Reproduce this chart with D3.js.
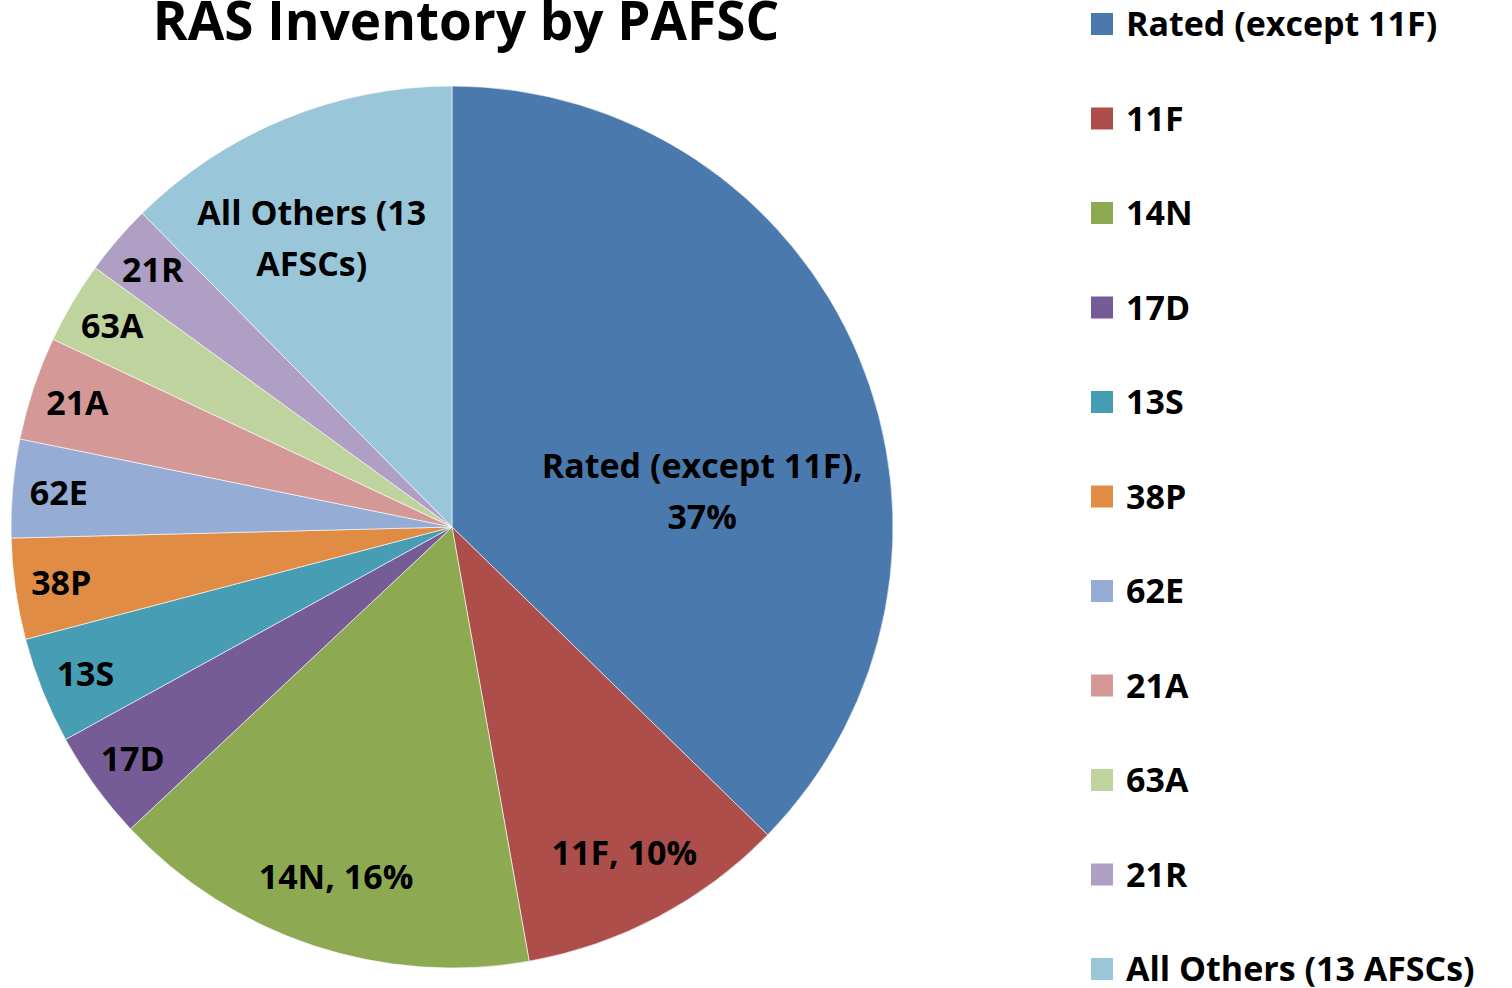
<!DOCTYPE html>
<html>
<head>
<meta charset="utf-8">
<script src="https://cdn.jsdelivr.net/npm/d3@7"></script>
<style>
  html, body { margin: 0; padding: 0; background: #fff; }
  svg text { font-family: "Open Sans", Lato, sans-serif; font-weight: 700; fill: #000; }
</style>
</head>
<body>
<svg id="chart" width="1512" height="988"></svg>
<script>
var categories = ['Rated (except 11F)', '11F', '14N', '17D', '13S', '38P', '62E', '21A', '63A', '21R', 'All Others (13 AFSCs)'];
var shares = [37.3, 9.9, 15.8, 4.0, 3.9, 3.7, 3.6, 3.8, 3.0, 2.6, 12.4];
var sliceLabels = [
  ['Rated (except 11F),', '37%'],
  ['11F, 10%'],
  ['14N, 16%'],
  ['17D'], ['13S'], ['38P'], ['62E'], ['21A'], ['63A'], ['21R'],
  ['All Others (13', 'AFSCs)']
];
var colors = ['#4a7aad', '#ad4e4a', '#8daa52', '#765c96', '#469db4', '#e08c44',
              '#95acd4', '#d49896', '#bfd39e', '#af9fc4', '#9ac6d9'];

var svg = d3.select('#chart');
var cx = 452, cy = 527, radius = 441;

var color = d3.scaleOrdinal().domain(categories).range(colors);

var pie = d3.pie().sort(null).value(function(d) { return d.value; });
var arcs = pie(categories.map(function(c, i) { return { name: c, value: shares[i], lines: sliceLabels[i] }; }));

var arc = d3.arc().innerRadius(0).outerRadius(radius);

var g = svg.append('g').attr('transform', 'translate(' + cx + ',' + cy + ')');

g.selectAll('path')
  .data(arcs)
  .enter()
  .append('path')
  .attr('d', arc)
  .attr('fill', function(d) { return color(d.data.name); })
  .attr('stroke', '#fff')
  .attr('stroke-width', 0.6);

// where Excel put each label: fraction along the slice, fraction of radius
function labelSpot(d, i) {
  var t = 0.5, r = 0.895;
  if (i === 0) { t = 0.61; r = 0.573; }
  else if (i === 1 || i === 2) { r = 0.835; }
  else if (i === 10) { t = 0.42; r = 0.728; }
  var a = d.startAngle + (d.endAngle - d.startAngle) * t;
  return [Math.sin(a) * radius * r, -Math.cos(a) * radius * r];
}

var lineH = 51;
var labels = g.selectAll('.slice-label')
  .data(arcs)
  .enter()
  .append('text')
  .attr('class', 'slice-label')
  .attr('text-anchor', 'middle')
  .attr('font-size', 34)
  .attr('transform', function(d, i) { return 'translate(' + labelSpot(d, i) + ')'; });

labels.selectAll('tspan')
  .data(function(d) { return d.data.lines.map(function(l, k) { return { text: l, k: k, n: d.data.lines.length }; }); })
  .enter()
  .append('tspan')
  .attr('x', 0)
  .attr('y', function(l) { return (l.k - (l.n - 1) / 2) * lineH; })
  .attr('dy', '0.36em')
  .text(function(l) { return l.text; });

svg.append('text')
  .attr('x', 466)
  .attr('y', 40)
  .attr('text-anchor', 'middle')
  .attr('font-size', 53)
  .text('RAS Inventory by PAFSC');

var legendY = d3.scalePoint().domain(categories).range([24, 969]);

var legend = svg.append('g').selectAll('g')
  .data(categories)
  .enter()
  .append('g')
  .attr('transform', function(d) { return 'translate(1091,' + legendY(d) + ')'; });

legend.append('rect')
  .attr('x', 0)
  .attr('y', -11)
  .attr('width', 22)
  .attr('height', 22)
  .attr('fill', function(d) { return color(d); });

legend.append('text')
  .attr('x', 35)
  .attr('y', 12)
  .attr('font-size', 34)
  .text(function(d) { return d; });
</script>
</body>
</html>
